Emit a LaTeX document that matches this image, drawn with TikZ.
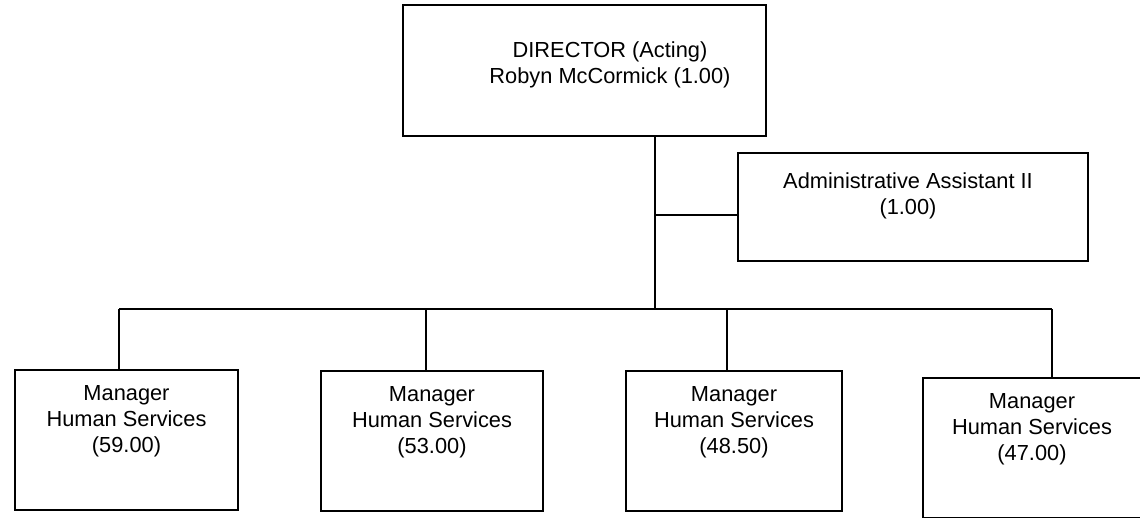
\documentclass[tikz,border=0pt]{standalone}
\usepackage{fontspec}
\setmainfont{Liberation Sans}
\begin{document}
\begin{tikzpicture}[x=1pt,y=-1pt,
  box/.style={draw=black,rectangle,inner sep=0pt,line width=1.3pt},
  dirbox/.style={box,line width=2.2pt},
  txt/.style={align=center,inner sep=0pt,font=\fontsize{21.8}{26}\selectfont},
  thick line/.style={line width=2pt},
  thin line/.style={line width=1.3pt}]
\useasboundingbox (0,0) rectangle (1140,517);
% boxes
\node[dirbox,minimum width=363pt,minimum height=131pt] (dir) at (584.5,70.5) {};
\node[box,minimum width=350pt,minimum height=108pt] (adm) at (913,207) {};
\node[box,minimum width=223pt,minimum height=140pt] (m1) at (126.5,440) {};
\node[box,minimum width=222pt,minimum height=140pt] (m2) at (432,441) {};
\node[box,minimum width=216pt,minimum height=140pt] (m3) at (734,441) {};
\node[box,minimum width=218pt,minimum height=140pt] (m4) at (1032,448) {};
% texts
\node[txt] (tdir) at (610,64.5) {DIRECTOR (Acting)\\Robyn McCormick (1.00)};
\node[txt] (tadm) at (908,196) {Administrative Assistant II\\(1.00)};
\node[txt] (t1) at (126.5,421) {Manager\\Human Services\\(59.00)};
\node[txt] (t2) at (432,422) {Manager\\Human Services\\(53.00)};
\node[txt] (t3) at (734,422) {Manager\\Human Services\\(48.50)};
\node[txt] (t4) at (1032,429) {Manager\\Human Services\\(47.00)};
% connector coordinates
\coordinate (bus) at (655,309);
\coordinate (j) at (655,215);
\coordinate (b1) at (119,309);
\coordinate (b2) at (426,309);
\coordinate (b3) at (727,309);
\coordinate (b4) at (1052,309);
% connectors
\draw[thick line] (dir.south -| bus) -- (bus);
\draw[thick line] (j) -- (adm.west |- j);
\draw[thick line] (b1) -- (b4);
\draw[thin line] (b1) -- (b1 |- m1.north);
\draw[thin line] (b2) -- (b2 |- m2.north);
\draw[thin line] (b3) -- (b3 |- m3.north);
\draw[thin line] (b4) -- (b4 |- m4.north);
\end{tikzpicture}
\end{document}
